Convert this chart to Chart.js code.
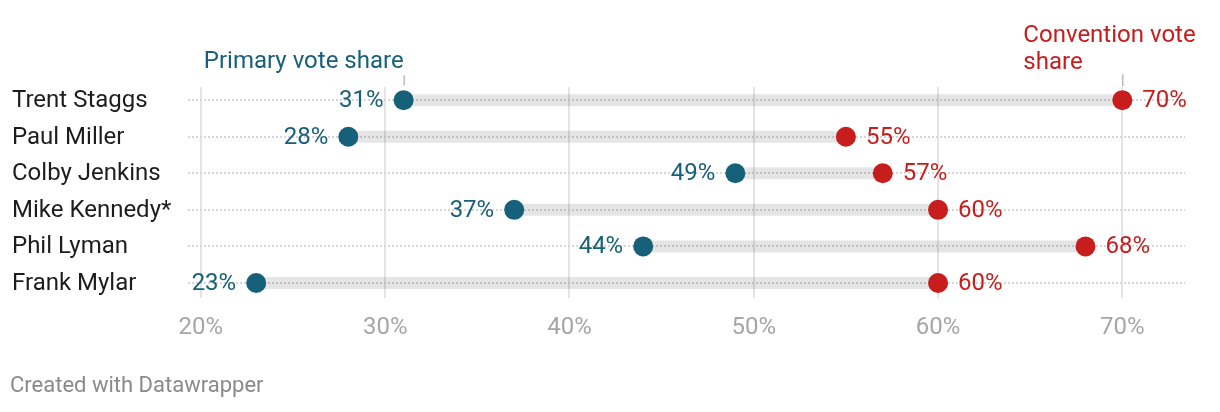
<!DOCTYPE html>
<html>
<head>
<meta charset="utf-8">
<script src="https://cdn.jsdelivr.net/npm/chart.js@4.4.1/dist/chart.umd.min.js"></script>
<style>
  body { margin: 0; background: #fff; }
  #wrap { position: relative; width: 1220px; height: 412px; }
  #footer {
    position: absolute; left: 10px; top: 372px;
    font-family: Roboto, sans-serif; font-size: 22px; color: #8a8a8a;
  }
</style>
</head>
<body>
<div id="wrap">
  <canvas id="myChart" width="1220" height="412"></canvas>
  <div id="footer">Created with Datawrapper</div>
</div>
<script>
const ctx = document.querySelector("#myChart").getContext("2d");

const candidates = [
    "Trent Staggs",
    "Paul Miller",
    "Colby Jenkins",
    "Mike Kennedy*",
    "Phil Lyman",
    "Frank Mylar",
];
const primaryShare = [31, 28, 49, 37, 44, 23];
const conventionShare = [70, 55, 57, 60, 68, 60];
const xTicks = [20, 30, 40, 50, 60, 70];

const blue = "#17607a";
const red = "#c71e1d";
const font = "Roboto";

// grey range bars, one per candidate
const bands = candidates.map((name, i) => ({
    data: [{ x: primaryShare[i], y: i }, { x: conventionShare[i], y: i }],
    showLine: true,
    borderColor: "rgba(0, 0, 0, 0.1)",
    borderWidth: 12,
    borderCapStyle: "butt",
    pointRadius: 0,
}));

const data = {
    datasets: [{
        label: "Primary vote share",
        data: primaryShare.map((v, i) => ({ x: v, y: i })),
        backgroundColor: blue,
        borderWidth: 0,
        pointRadius: 10,
    }, {
        label: "Convention vote share",
        data: conventionShare.map((v, i) => ({ x: v, y: i })),
        backgroundColor: red,
        borderWidth: 0,
        pointRadius: 10,
    }, ...bands]
};

// value labels next to the dots + the two header annotations
const labelsPlugin = {
    id: "labels",
    afterDatasetsDraw(chart) {
        const c = chart.ctx;
        const xs = chart.scales.x;
        const ys = chart.scales.y;
        c.save();
        c.font = "24px " + font;
        c.textBaseline = "middle";
        chart.getDatasetMeta(0).data.forEach((pt, i) => {
            c.fillStyle = blue;
            c.textAlign = "right";
            c.fillText(primaryShare[i] + "%", pt.x - 20, pt.y + 1);
        });
        chart.getDatasetMeta(1).data.forEach((pt, i) => {
            c.fillStyle = red;
            c.textAlign = "left";
            c.fillText(conventionShare[i] + "%", pt.x + 20, pt.y + 1);
        });

        const top = ys.getPixelForValue(0);
        const px = xs.getPixelForValue(primaryShare[0]);
        const cx = xs.getPixelForValue(conventionShare[0]);
        c.strokeStyle = "#999";
        c.lineWidth = 1;
        c.beginPath();
        c.moveTo(px + 0.5, top - 25);
        c.lineTo(px + 0.5, top - 15);
        c.moveTo(cx + 0.5, top - 26);
        c.lineTo(cx + 0.5, top - 14);
        c.stroke();

        c.fillStyle = blue;
        c.textAlign = "right";
        c.fillText("Primary vote share", px, top - 38);
        c.fillStyle = red;
        c.textAlign = "left";
        c.fillText("Convention vote", cx - 99, top - 64);
        c.fillText("share", cx - 99, top - 37);
        c.restore();
    }
};

const config = {
    type: "scatter",
    data: data,
    plugins: [labelsPlugin],
    options: {
        responsive: false,
        animation: false,
        events: [],
        layout: {
            padding: { left: 12, right: 35, top: 87, bottom: 64 }
        },
        plugins: {
            legend: { display: false },
            tooltip: { enabled: false },
        },
        scales: {
            x: {
                type: "linear",
                min: 19.3,
                max: 73.4,
                afterBuildTicks: (scale) => {
                    scale.ticks = xTicks.map(v => ({ value: v }));
                },
                afterFit: (scale) => { scale.height = 50; },
                border: { display: false },
                grid: { color: "#e4e4e4", lineWidth: 2, drawTicks: false },
                ticks: {
                    padding: 16,
                    color: "#a6a6a6",
                    font: { family: font, size: 24 },
                    callback: (value) => value + "%",
                }
            },
            y: {
                type: "linear",
                reverse: true,
                min: -0.36,
                max: 5.41,
                afterBuildTicks: (scale) => {
                    scale.ticks = candidates.map((c, i) => ({ value: i }));
                },
                afterFit: (scale) => { scale.width = 176; },
                border: { display: false, dash: [2, 2] },
                grid: { color: "#d6d6d6", lineWidth: 2, drawTicks: false },
                ticks: {
                    crossAlign: "far",
                    labelOffset: 1,
                    color: "#1d1d1d",
                    font: { family: font, size: 24 },
                    callback: (value) => candidates[value],
                }
            }
        }
    }
};

const myChart = new Chart(ctx, config);
</script>
</body>
</html>
